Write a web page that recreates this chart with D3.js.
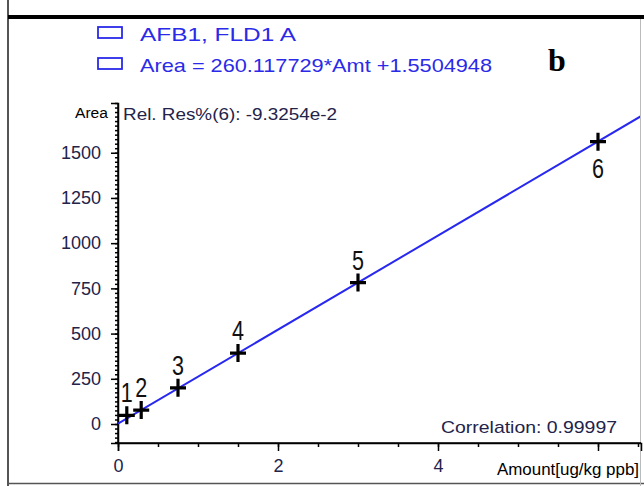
<!DOCTYPE html>
<html>
<head>
<meta charset="utf-8">
<script src="https://d3js.org/d3.v7.min.js"></script>
<style>
body{margin:0;background:#fff;}
text{font-family:"Liberation Sans",Arial,sans-serif;}
</style>
</head>
<body>
<script>
// calibration points
var levels=["1","2","3","4","5","6"];
var amounts=[0.11,0.29,0.75,1.5,3,6];
var areas=[48,77,200,392,782,1561];
var slope=260.117729, intercept=1.5504948;
var xTicks=[0,2,4];
var yTicks=[0,250,500,750,1000,1250,1500];
var legendLines=["AFB1, FLD1 A","Area = 260.117729*Amt +1.5504948"];
var legendWidths=[156,352];

var W=644,H=486;
var svg=d3.select("body").append("svg").attr("width",W).attr("height",H);

// frame
svg.append("line").attr("x1",8).attr("x2",8).attr("y1",0).attr("y2",H).attr("stroke","#555").attr("stroke-width",2);
svg.append("line").attr("x1",8).attr("x2",W).attr("y1",17).attr("y2",17).attr("stroke","#000").attr("stroke-width",4);
svg.append("line").attr("x1",8).attr("x2",W).attr("y1",483.5).attr("y2",483.5).attr("stroke","#555").attr("stroke-width",1.5);
svg.append("line").attr("x1",640.5).attr("x2",640.5).attr("y1",19).attr("y2",H).attr("stroke","#bbb").attr("stroke-width",1);

var x=d3.scaleLinear().domain([0,6.5375]).range([118,641]);
var y=d3.scaleLinear().domain([-105,1775]).range([443,103]);

var ink="#23234a";

// y axis
var yg=svg.append("g").attr("transform","translate(118,0)");
yg.call(d3.axisLeft(y).tickValues(d3.range(-100,1776,25)).tickSize(3).tickFormat(""));
yg.append("g").call(d3.axisLeft(y).tickValues(yTicks).tickSize(7).tickPadding(10).tickFormat(d3.format("d")));
yg.selectAll("path").attr("stroke","#000").attr("stroke-width",1.5);
yg.selectAll("line").attr("stroke","#000").attr("stroke-width",1.5);
yg.selectAll("text").attr("font-size",18).attr("fill",ink);
yg.select(".domain").attr("d","M0,"+y(1775)+"V"+y(-105));

// x axis
var xg=svg.append("g").attr("transform","translate(0,443)");
xg.call(d3.axisBottom(x).tickValues(d3.range(0,6.6,0.5)).tickSize(4).tickFormat(""));
xg.append("g").call(d3.axisBottom(x).tickValues([0,2,4,6]).tickSize(8).tickPadding(8).tickFormat(function(d){return xTicks.indexOf(d)>=0?d:"";}));
xg.selectAll("path").attr("stroke","#000").attr("stroke-width",1.5);
xg.selectAll("line").attr("stroke","#000").attr("stroke-width",1.5);
xg.selectAll("text").attr("font-size",18).attr("fill",ink);
xg.select(".domain").attr("d","M"+x(0)+",0H641");

svg.append("text").attr("x",75).attr("y",118).attr("font-size",14).attr("textLength",33).attr("lengthAdjust","spacingAndGlyphs")
  .attr("fill","#000").text("Area");
svg.append("text").attr("x",497).attr("y",475).attr("font-size",16).attr("textLength",142).attr("lengthAdjust","spacingAndGlyphs")
  .attr("fill","#000").text("Amount[ug/kg ppb]");

// fit line
svg.append("defs").append("clipPath").attr("id","clip").append("rect").attr("x",118).attr("y",19).attr("width",522).attr("height",424);
svg.append("line").attr("clip-path","url(#clip)")
  .attr("x1",x(0)).attr("y1",y(intercept)).attr("x2",x(7)).attr("y2",y(slope*7+intercept))
  .attr("stroke","#2828f0").attr("stroke-width",2);

// points
var pts=svg.append("g").selectAll("g").data(amounts).enter().append("g")
  .attr("transform",function(d,i){return "translate("+x(d)+","+y(areas[i])+")";});
pts.append("path").attr("d","M-8,0H8M0,-9V9").attr("stroke","#000").attr("stroke-width",3.2);
pts.append("text").attr("font-size",27).attr("fill","#111")
  .attr("x",-6).attr("textLength",12).attr("lengthAdjust","spacingAndGlyphs")
  .attr("y",function(d,i){return i==5?36:-13;})
  .text(function(d,i){return levels[i];});

// legend
var lg=svg.append("g").selectAll("g").data(legendLines).enter().append("g")
  .attr("transform",function(d,i){return "translate(98,"+(27+i*31)+")";});
lg.append("rect").attr("width",24).attr("height",11).attr("fill","none").attr("stroke","#2a2ae8").attr("stroke-width",1.8);
lg.append("text").attr("x",42).attr("y",14).attr("font-size",19).attr("fill","#2a2ae8")
  .attr("textLength",function(d,i){return legendWidths[i];}).attr("lengthAdjust","spacingAndGlyphs")
  .text(function(d){return d;});

svg.append("text").attr("x",548).attr("y",71).style("font-family","'Liberation Serif','Times New Roman',serif")
  .attr("font-weight","bold").attr("font-size",32).attr("fill","#000").text("b");

svg.append("text").attr("x",123).attr("y",120).attr("font-size",17).attr("textLength",214).attr("lengthAdjust","spacingAndGlyphs")
  .attr("fill",ink).text("Rel. Res%(6): -9.3254e-2");
svg.append("text").attr("x",441).attr("y",433).attr("font-size",17).attr("textLength",176).attr("lengthAdjust","spacingAndGlyphs")
  .attr("fill",ink).text("Correlation: 0.99997");
</script>
</body>
</html>
